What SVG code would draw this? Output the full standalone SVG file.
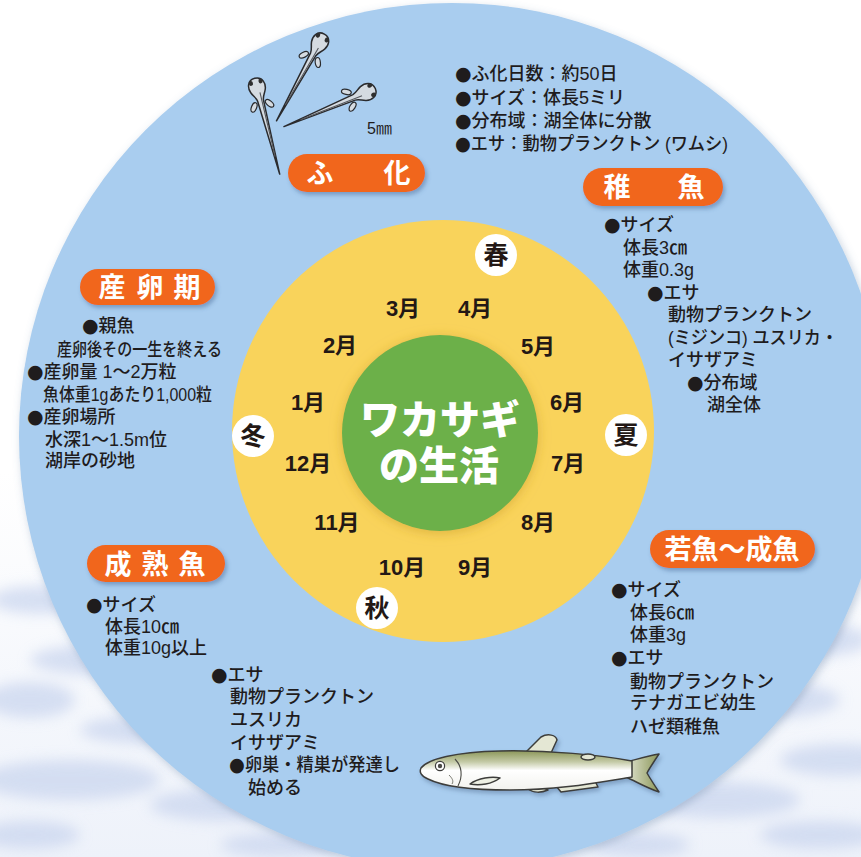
<svg xmlns="http://www.w3.org/2000/svg" width="861" height="857" viewBox="0 0 861 857">
  <defs>
    <style>
      .txt { font-family: "Liberation Sans", "Noto Sans CJK JP", sans-serif; font-size: 18px; font-weight: 500; fill: #1f1c1d; }
      .b { font-family: "DejaVu Sans", "Liberation Sans", sans-serif; font-size: 19px; }
      .badge rect { fill: #F1661E; filter: url(#badgeShadow); }
      .badge text { font-family: "Liberation Sans", "Noto Sans CJK JP", sans-serif; font-weight: 700; font-size: 27px; fill: #ffffff; text-anchor: middle; }
      .month { font-family: "Liberation Sans", "Noto Sans CJK JP", sans-serif; font-weight: 700; font-size: 22px; fill: #231815; text-anchor: middle; }
      .season circle { fill: #ffffff; }
      .season text { font-family: "Liberation Sans", "Noto Sans CJK JP", sans-serif; font-weight: 700; font-size: 25px; fill: #231815; text-anchor: middle; }
      .larva .outline { fill: #d5dbe1; stroke: #2a2b2e; stroke-width: 1.5; stroke-linejoin: round; }
      .larva .fin { fill: #d5dbe1; stroke: #2a2b2e; stroke-width: 1.2; }
      .larva .eye { fill: #2f2f2f; }
      .larva .gut { fill: none; stroke: #55585d; stroke-width: 1.1; }
      .fish-line { stroke: #3d3d3a; stroke-width: 1.5; stroke-linejoin: round; }
    </style>
    <linearGradient id="bgGrad" x1="0" y1="0" x2="0" y2="1">
      <stop offset="0" stop-color="#ffffff"/>
      <stop offset="0.55" stop-color="#ffffff"/>
      <stop offset="1" stop-color="#eef2fa"/>
    </linearGradient>
    <linearGradient id="fishBody" x1="0" y1="0" x2="0" y2="1">
      <stop offset="0" stop-color="#8c975a"/>
      <stop offset="0.28" stop-color="#c4caa6"/>
      <stop offset="0.5" stop-color="#ffffff"/>
      <stop offset="1" stop-color="#f2f2ee"/>
    </linearGradient>
    <linearGradient id="fishTail" x1="1" y1="0" x2="0" y2="0">
      <stop offset="0" stop-color="#8c975a"/>
      <stop offset="1" stop-color="#e2e5d2"/>
    </linearGradient>
    <filter id="cloudBlur" x="-20%" y="-20%" width="140%" height="140%">
      <feGaussianBlur stdDeviation="7"/>
    </filter>
    <filter id="badgeShadow" x="-10%" y="-20%" width="130%" height="160%">
      <feDropShadow dx="2" dy="3" stdDeviation="2" flood-color="#3f6491" flood-opacity="0.45"/>
    </filter>
    <filter id="softShadow" x="-10%" y="-10%" width="120%" height="120%">
      <feDropShadow dx="2" dy="3" stdDeviation="4" flood-color="#5f7ea3" flood-opacity="0.35"/>
    </filter>
    <filter id="hubShadow" x="-20%" y="-20%" width="140%" height="140%">
      <feDropShadow dx="0" dy="2" stdDeviation="6" flood-color="#c79a2a" flood-opacity="0.55"/>
    </filter>
    <filter id="fishShadow" x="-10%" y="-30%" width="120%" height="160%">
      <feDropShadow dx="2" dy="3" stdDeviation="2" flood-color="#4e6c8f" flood-opacity="0.45"/>
    </filter>
    <!-- one larva, head at origin, body running along +x -->
    <g id="larva" class="larva">
      <ellipse class="fin" cx="19" cy="-8" rx="5" ry="2.6" transform="rotate(-35 19 -8)"/>
      <ellipse class="fin" cx="19" cy="8" rx="5" ry="2.6" transform="rotate(35 19 8)"/>
      <path class="outline" d="M -9,0 C -9,-8 -1,-9.5 4,-7.5 C 8,-6 10,-3.5 14,-3 L 90,0 L 14,3 C 10,3.5 8,6 4,7.5 C -1,9.5 -9,8 -9,0 Z"/>
      <path class="gut" d="M 6,-1.5 L 72,0"/>
      <ellipse class="eye" cx="-5" cy="-5" rx="2.5" ry="2.1"/>
      <ellipse class="eye" cx="-5" cy="5" rx="2.5" ry="2.1"/>
    </g>
  </defs>

  <!-- backdrop -->
  <rect x="0" y="0" width="861" height="857" fill="url(#bgGrad)"/>
  <g id="clouds" filter="url(#cloudBlur)" fill="#c8d4ee" opacity="0.7">
    <ellipse cx="40" cy="600" rx="50" ry="14"/>
    <ellipse cx="110" cy="660" rx="80" ry="16"/>
    <ellipse cx="30" cy="700" rx="45" ry="18"/>
    <ellipse cx="150" cy="730" rx="70" ry="14"/>
    <ellipse cx="70" cy="780" rx="90" ry="20"/>
    <ellipse cx="220" cy="805" rx="70" ry="16"/>
    <ellipse cx="30" cy="835" rx="50" ry="14"/>
    <ellipse cx="280" cy="845" rx="60" ry="12"/>
    <ellipse cx="820" cy="640" rx="50" ry="16"/>
    <ellipse cx="770" cy="700" rx="70" ry="18"/>
    <ellipse cx="840" cy="760" rx="60" ry="16"/>
    <ellipse cx="720" cy="800" rx="80" ry="18"/>
    <ellipse cx="820" cy="835" rx="60" ry="14"/>
    <ellipse cx="640" cy="845" rx="50" ry="12"/>
  </g>

  <!-- outer lake disc -->
  <circle id="lake" cx="452" cy="436" r="433" fill="#a9cdef" filter="url(#softShadow)"/>

  <!-- yellow month ring -->
  <g id="year-ring">
    <circle cx="443" cy="431" r="211" fill="#f9d35b"/>
    <text class="month" x="403" y="316">3月</text>
    <text class="month" x="475" y="316">4月</text>
    <text class="month" x="340" y="353">2月</text>
    <text class="month" x="538" y="354">5月</text>
    <text class="month" x="308" y="410">1月</text>
    <text class="month" x="567" y="410">6月</text>
    <text class="month" x="308" y="471">12月</text>
    <text class="month" x="568" y="471">7月</text>
    <text class="month" x="337" y="530">11月</text>
    <text class="month" x="538" y="530">8月</text>
    <text class="month" x="402" y="575">10月</text>
    <text class="month" x="475" y="575">9月</text>
  </g>

  <!-- seasons -->
  <g id="seasons" class="season">
    <g id="spring"><circle cx="496" cy="255" r="21"/><text x="496" y="264">春</text></g>
    <g id="summer"><circle cx="626" cy="435" r="21"/><text x="626" y="444">夏</text></g>
    <g id="autumn"><circle cx="377" cy="608" r="21"/><text x="377" y="617">秋</text></g>
    <g id="winter"><circle cx="253" cy="436" r="21"/><text x="253" y="445">冬</text></g>
  </g>

  <!-- hub -->
  <g id="hub">
    <circle cx="440" cy="433" r="98" fill="#6cb04a" filter="url(#hubShadow)"/>
    <text text-anchor="middle" font-family="'Liberation Sans', 'Noto Sans CJK JP', sans-serif" font-weight="900" font-size="40" fill="#ffffff"><tspan x="440" y="434">ワカサギ</tspan><tspan x="439" y="480">の生活</tspan></text>
  </g>

  <!-- hatching stage -->
  <g id="hatching">
    <g id="larvae">
      <use href="#larva" transform="translate(257 87) rotate(75.4)"/>
      <use href="#larva" transform="translate(320 42) rotate(118.9)"/>
      <use href="#larva" transform="translate(367 92) rotate(157.4)"/>
    </g>
    <text x="367" y="134" font-family="'Liberation Sans', 'Noto Sans CJK JP', sans-serif" font-size="16" fill="#1f1c1d">5㎜</text>
    <g class="badge">
      <rect x="288" y="154" width="137" height="38" rx="19"/>
      <text x="320" y="183">ふ</text>
      <text x="397" y="183">化</text>
    </g>
    <text class="txt">
      <tspan x="455" y="80"><tspan class="b">●</tspan>ふ化日数：約50日</tspan>
      <tspan x="455" y="104"><tspan class="b">●</tspan>サイズ：体長5ミリ</tspan>
      <tspan x="455" y="127"><tspan class="b">●</tspan>分布域：湖全体に分散</tspan>
      <tspan x="455" y="150" textLength="273" lengthAdjust="spacingAndGlyphs"><tspan class="b">●</tspan>エサ：動物プランクトン (ワムシ)</tspan>
    </text>
  </g>

  <!-- fry stage -->
  <g id="fry">
    <g class="badge">
      <rect x="583" y="168" width="140" height="38" rx="19"/>
      <text x="617" y="197">稚</text>
      <text x="691" y="197">魚</text>
    </g>
    <text class="txt">
      <tspan x="604" y="231"><tspan class="b">●</tspan>サイズ</tspan>
      <tspan x="623" y="254">体長3㎝</tspan>
      <tspan x="623" y="276">体重0.3g</tspan>
      <tspan x="647" y="299"><tspan class="b">●</tspan>エサ</tspan>
      <tspan x="668" y="321">動物プランクトン</tspan>
      <tspan x="668" y="344" textLength="170" lengthAdjust="spacingAndGlyphs">(ミジンコ) ユスリカ・</tspan>
      <tspan x="668" y="366">イサザアミ</tspan>
      <tspan x="687" y="389"><tspan class="b">●</tspan>分布域</tspan>
      <tspan x="707" y="411">湖全体</tspan>
    </text>
  </g>

  <!-- spawning stage -->
  <g id="spawning">
    <g class="badge">
      <rect x="80" y="269" width="135" height="36" rx="18"/>
      <text x="112" y="297">産</text>
      <text x="150" y="297">卵</text>
      <text x="187" y="297">期</text>
    </g>
    <text class="txt">
      <tspan x="82" y="332"><tspan class="b">●</tspan>親魚</tspan>
      <tspan x="57" y="356" textLength="165" lengthAdjust="spacingAndGlyphs">産卵後その一生を終える</tspan>
      <tspan x="27" y="378"><tspan class="b">●</tspan>産卵量 1〜2万粒</tspan>
      <tspan x="43" y="401" textLength="169" lengthAdjust="spacingAndGlyphs">魚体重1gあたり1,000粒</tspan>
      <tspan x="27" y="423"><tspan class="b">●</tspan>産卵場所</tspan>
      <tspan x="45" y="446">水深1〜1.5m位</tspan>
      <tspan x="45" y="467">湖岸の砂地</tspan>
    </text>
  </g>

  <!-- mature fish stage -->
  <g id="mature">
    <g class="badge">
      <rect x="87" y="545" width="138" height="37" rx="18.5"/>
      <text x="118" y="574">成</text>
      <text x="155" y="574">熟</text>
      <text x="192" y="574">魚</text>
    </g>
    <text class="txt">
      <tspan x="86" y="611"><tspan class="b">●</tspan>サイズ</tspan>
      <tspan x="105" y="633">体長10㎝</tspan>
      <tspan x="105" y="654">体重10g以上</tspan>
      <tspan x="211" y="681"><tspan class="b">●</tspan>エサ</tspan>
      <tspan x="230" y="703">動物プランクトン</tspan>
      <tspan x="230" y="726">ユスリカ</tspan>
      <tspan x="230" y="749">イサザアミ</tspan>
      <tspan x="229" y="771" textLength="171" lengthAdjust="spacingAndGlyphs"><tspan class="b">●</tspan>卵巣・精巣が発達し</tspan>
      <tspan x="248" y="794">始める</tspan>
    </text>
  </g>

  <!-- young to adult stage -->
  <g id="young">
    <g class="badge">
      <rect x="650" y="530" width="165" height="38" rx="19"/>
      <text x="732" y="559">若魚〜成魚</text>
    </g>
    <text class="txt">
      <tspan x="611" y="596"><tspan class="b">●</tspan>サイズ</tspan>
      <tspan x="630" y="619">体長6㎝</tspan>
      <tspan x="630" y="641">体重3g</tspan>
      <tspan x="611" y="664"><tspan class="b">●</tspan>エサ</tspan>
      <tspan x="630" y="688">動物プランクトン</tspan>
      <tspan x="630" y="709">テナガエビ幼生</tspan>
      <tspan x="630" y="733">ハゼ類稚魚</tspan>
    </text>
  </g>

  <!-- smelt illustration -->
  <g id="smelt" filter="url(#fishShadow)">
    <path class="fish-line" fill="#e4e7d4" d="M 525,753 L 541,737 C 548,733 556,735 557,740 L 551,753 Z"/>
    <path class="fish-line" fill="#e4e7d4" d="M 556,786 L 594,779 L 598,787 L 561,792 Z"/>
    <path class="fish-line" fill="#e4e7d4" d="M 528,789 C 535,786 543,787 548,790 C 541,793 533,793 528,789 Z"/>
    <path class="fish-line" fill="url(#fishTail)" d="M 626,762 C 638,759 648,756 659,754 C 653,763 649,769 647,773 C 651,780 655,786 659,792 C 647,788 637,782 626,777 Z"/>
    <path class="fish-line" fill="url(#fishBody)" d="M 421,768 C 428,759 455,752 500,751 C 550,750 600,755 632,761 L 632,777 C 600,782 560,790 510,790 C 470,790 442,786 428,779 C 421,776 419,772 421,768 Z"/>
    <ellipse class="fish-line" fill="#e4e7d4" cx="588" cy="757" rx="7" ry="3"/>
    <path class="fish-line" fill="#eef0e4" d="M 470,784 C 478,778 492,776 500,778 C 492,784 480,786 470,784 Z"/>
    <path fill="none" stroke="#4a4a45" stroke-width="1.1" d="M 455,759 C 462,766 463,776 458,786"/>
    <path fill="none" stroke="#6a6a60" stroke-width="0.9" d="M 449,775 C 452,778 454,781 452,784"/>
    <circle cx="440" cy="766" r="4.6" fill="#ffffff" stroke="#3d3d3a" stroke-width="1.2"/>
    <circle cx="440" cy="766" r="2.2" fill="#4a4a45"/>
  </g>

  <g id="connectors"/>
</svg>
